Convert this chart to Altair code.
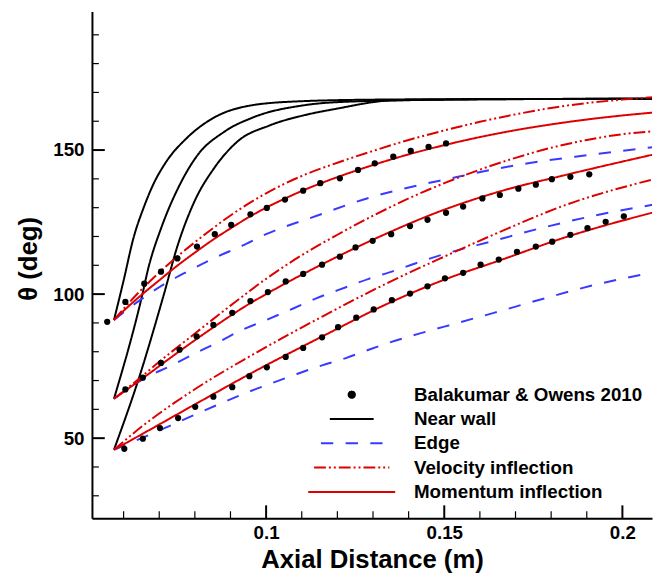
import altair as alt
import pandas as pd

# ---------------- data ----------------
SERIES = ["Balakumar & Owens 2010", "Near wall", "Edge",
          "Velocity inflection", "Momentum inflection"]

# Near wall (black)
nw_top_x = [0.0573, 0.0600, 0.0628, 0.0656, 0.0683, 0.0720, 0.0776, 0.0850, 0.0933, 0.1071, 0.1300, 0.1600, 0.2085]
nw_top_y = [91.0, 104.7, 119.6, 129.9, 138.0, 146.0, 154.0, 161.0, 164.9, 166.8, 167.5, 167.7, 167.8]
nw_mid_x = [0.0573, 0.0651, 0.0670, 0.0706, 0.0753, 0.0808, 0.0882, 0.0965, 0.1104, 0.1196, 0.1500, 0.2085]
nw_mid_y = [63.7, 99.0, 109.3, 123.1, 136.8, 148.3, 156.3, 161.4, 165.5, 166.6, 167.5, 167.8]
nw_bot_x = [0.0573, 0.0646, 0.0711, 0.0753, 0.0799, 0.0854, 0.0919, 0.1011, 0.1104, 0.1196, 0.1353, 0.1722, 0.2085]
nw_bot_y = [46.0, 72.0, 99.0, 117.4, 132.2, 143.7, 152.9, 158.6, 162.0, 164.3, 167.2, 167.7, 167.8]

# Edge (blue dashed)
ed_top_x = [0.0573, 0.0646, 0.0716, 0.0785, 0.0854, 0.0933, 0.1000, 0.1140, 0.1288, 0.1436, 0.1500, 0.1704, 0.1907, 0.2085]
ed_top_y = [91.0, 97.9, 103.6, 108.2, 112.5, 116.8, 120.8, 127.1, 133.4, 138.0, 139.7, 144.8, 148.3, 151.0]
ed_mid_x = [0.0573, 0.0656, 0.0730, 0.0794, 0.0868, 0.0933, 0.1000, 0.1076, 0.1150, 0.1224, 0.1288, 0.1362, 0.1427, 0.1500, 0.1639, 0.1778, 0.1916, 0.2085]
ed_mid_y = [63.7, 70.6, 75.0, 79.0, 83.5, 87.6, 91.0, 95.0, 99.0, 102.4, 105.3, 108.2, 111.0, 113.9, 118.5, 123.1, 127.1, 131.0]
ed_bot_x = [0.0573, 0.0656, 0.0730, 0.0794, 0.0868, 0.0933, 0.1007, 0.1076, 0.1150, 0.1224, 0.1288, 0.1362, 0.1427, 0.1500, 0.1639, 0.1778, 0.1916, 0.2085]
ed_bot_y = [46.0, 50.3, 54.3, 57.8, 61.8, 65.2, 68.7, 71.8, 75.0, 77.8, 80.7, 83.8, 86.2, 88.7, 93.5, 98.4, 103.0, 107.5]

# Velocity inflection (red dash-dot-dot)
vi_top_x = [0.0573, 0.063, 0.070, 0.076, 0.080, 0.085, 0.090, 0.100, 0.110, 0.120, 0.130, 0.140, 0.150, 0.160, 0.170, 0.180, 0.190, 0.200, 0.2085]
vi_top_y = [91.0, 99.0, 107.5, 114.0, 118.0, 122.8, 127.3, 135.0, 141.0, 145.6, 149.7, 153.5, 156.8, 159.8, 162.4, 164.6, 166.3, 167.5, 168.3]
vi_mid_x = [0.0573, 0.065, 0.070, 0.080, 0.090, 0.100, 0.110, 0.120, 0.130, 0.140, 0.150, 0.160, 0.170, 0.180, 0.190, 0.200, 0.2085]
vi_mid_y = [63.7, 71.3, 76.5, 86.3, 96.0, 105.3, 113.5, 120.6, 127.2, 133.2, 138.5, 143.2, 147.3, 150.8, 153.5, 155.5, 156.5]
vi_bot_x = [0.0573, 0.0656, 0.0794, 0.0974, 0.1159, 0.1343, 0.1500, 0.1658, 0.1842, 0.2085]
vi_bot_y = [46.0, 54.5, 66.5, 79.8, 92.3, 104.0, 113.0, 121.7, 131.0, 139.8]

# Momentum inflection (red solid)
mi_top_x = [0.0573, 0.060, 0.065, 0.070, 0.075, 0.080, 0.085, 0.090, 0.095, 0.100, 0.105, 0.110, 0.115, 0.120, 0.130, 0.140, 0.150, 0.160, 0.170, 0.180, 0.190, 0.200, 0.2085]
mi_top_y = [91.0, 94.2, 99.7, 104.8, 109.8, 114.4, 118.8, 122.8, 126.6, 130.0, 133.0, 135.8, 138.3, 140.6, 144.8, 148.5, 151.7, 154.5, 156.9, 158.9, 160.6, 162.0, 163.0]
mi_mid_x = [0.0573, 0.0656, 0.0757, 0.0850, 0.0951, 0.1000, 0.1205, 0.1343, 0.1500, 0.1658, 0.1842, 0.2085]
mi_mid_y = [63.7, 71.0, 80.2, 88.3, 96.5, 100.0, 113.3, 121.3, 129.3, 135.7, 141.4, 148.4]
mi_bot_x = [0.0573, 0.0656, 0.0794, 0.0974, 0.1159, 0.1343, 0.1500, 0.1658, 0.1842, 0.2085]
mi_bot_y = [46.0, 51.7, 61.3, 73.6, 85.4, 96.8, 105.0, 111.8, 119.8, 128.3]

# Balakumar & Owens 2010 (black dots)
ex_top_x = [0.0554, 0.0605, 0.0658, 0.0705, 0.0751, 0.0806, 0.0856, 0.0902, 0.0956, 0.1002, 0.1053, 0.1104, 0.1152, 0.1207, 0.1258, 0.1305, 0.1357, 0.1406, 0.1456, 0.1505]
ex_top_y = [90.4, 97.3, 103.6, 107.8, 112.4, 116.5, 120.8, 124.0, 127.7, 129.9, 132.8, 135.9, 138.5, 140.2, 143.1, 145.4, 147.7, 149.7, 151.1, 152.3]
ex_mid_x = [0.0605, 0.0654, 0.0705, 0.0757, 0.0805, 0.0852, 0.0905, 0.0956, 0.1005, 0.1055, 0.1104, 0.1157, 0.1207, 0.1251, 0.1299, 0.1351, 0.1404, 0.1453, 0.1505, 0.1553, 0.1607, 0.1656, 0.1708, 0.1757, 0.1802, 0.1854, 0.1907]
ex_mid_y = [66.9, 71.0, 76.1, 80.7, 85.3, 89.3, 93.5, 97.6, 100.7, 104.4, 107.0, 110.2, 113.0, 116.2, 118.5, 120.8, 123.6, 125.8, 128.2, 130.4, 133.2, 134.4, 136.6, 138.0, 139.9, 140.7, 141.6]
ex_bot_x = [0.0602, 0.0654, 0.0702, 0.0753, 0.0801, 0.0852, 0.0905, 0.0953, 0.1002, 0.1055, 0.1104, 0.1157, 0.1202, 0.1253, 0.1302, 0.1353, 0.1404, 0.1453, 0.1502, 0.1553, 0.1602, 0.1653, 0.1704, 0.1757, 0.1803, 0.1854, 0.1902, 0.1953, 0.2004]
ex_bot_y = [46.3, 49.8, 53.5, 57.0, 60.9, 64.4, 67.7, 71.5, 74.6, 78.2, 81.3, 85.0, 88.5, 91.8, 94.7, 97.9, 100.2, 102.7, 105.5, 107.4, 110.2, 112.0, 114.7, 116.5, 118.2, 120.6, 122.9, 125.1, 127.0]

# axis ticks
x_major = [0.1, 0.15, 0.2]
x_minor = [0.06, 0.07, 0.08, 0.09, 0.11, 0.12, 0.13, 0.14, 0.16, 0.17, 0.18, 0.19]
y_major = [50, 100, 150]
y_minor = [30, 40, 60, 70, 80, 90, 110, 120, 130, 140, 160, 170, 180, 190]

# ---------------- tables ----------------
curves = [
    ("Near wall", "top", nw_top_x, nw_top_y), ("Near wall", "mid", nw_mid_x, nw_mid_y), ("Near wall", "bot", nw_bot_x, nw_bot_y),
    ("Edge", "top", ed_top_x, ed_top_y), ("Edge", "mid", ed_mid_x, ed_mid_y), ("Edge", "bot", ed_bot_x, ed_bot_y),
    ("Velocity inflection", "top", vi_top_x, vi_top_y), ("Velocity inflection", "mid", vi_mid_x, vi_mid_y), ("Velocity inflection", "bot", vi_bot_x, vi_bot_y),
    ("Momentum inflection", "top", mi_top_x, mi_top_y), ("Momentum inflection", "mid", mi_mid_x, mi_mid_y), ("Momentum inflection", "bot", mi_bot_x, mi_bot_y),
]
rows = []
for s, g, xs, ys in curves:
    for xv, yv in zip(xs, ys):
        rows.append({"x": xv, "y": yv, "series": s, "curve": s + "-" + g})
lines_df = pd.DataFrame(rows)

pts = []
for xs, ys in [(ex_top_x, ex_top_y), (ex_mid_x, ex_mid_y), (ex_bot_x, ex_bot_y)]:
    for xv, yv in zip(xs, ys):
        pts.append({"x": xv, "y": yv, "series": SERIES[0]})
pts_df = pd.DataFrame(pts)

W, H = 567, 513
RED, BLUE = "#dd0000", "#3a3aff"
FONT = "Liberation Sans"

xscale = alt.Scale(domain=[0.05112, 0.20831], nice=False, zero=False)
yscale = alt.Scale(domain=[22.23, 198.1], nice=False, zero=False)

legend = alt.Legend(title=None, orient="none", legendX=218, legendY=378,
                    labelFont=FONT, labelFontSize=19, labelFontWeight="bold",
                    labelColor="black", labelOffset=18, labelLimit=600,
                    clipHeight=20, rowPadding=4.6, symbolStrokeWidth=2,
                    padding=0, symbolOpacity=1)

color = alt.Color("series:N", scale=alt.Scale(domain=SERIES, range=["black", "black", BLUE, RED, RED]), legend=legend)
dash = alt.StrokeDash("series:N", scale=alt.Scale(domain=SERIES, range=[[1, 0], [1, 0], [12.5, 12.5], [12, 3, 2, 3, 2, 3], [1, 0]]), legend=legend)
shape = alt.Shape("series:N", scale=alt.Scale(domain=SERIES, range=["circle", "stroke", "stroke", "stroke", "stroke"]), legend=legend)
size = alt.Size("series:N", scale=alt.Scale(domain=SERIES, range=[40, 7744, 7744, 7744, 7744]), legend=legend)

xaxis = alt.Axis(values=x_major, format="~g", title="Axial Distance (m)", titleY=50,
                 titleBaseline="alphabetic", labelPadding=6, labelFlush=False, labelOverlap=False)
yaxis = alt.Axis(values=y_major, format="d", title="θ (deg)", titleX=-64, titleY=250,
                 titleAngle=270, titleBaseline="middle", titleAlign="center",
                 labelPadding=8, labelOverlap=False)

X = alt.X("x:Q", scale=xscale, axis=xaxis)
Y = alt.Y("y:Q", scale=yscale, axis=yaxis)

line_layer = alt.Chart(lines_df).mark_line(strokeWidth=2, interpolate="monotone", clip=True).encode(
    x=X, y=Y, color=color, strokeDash=dash, detail="curve:N",
)

pt_layer = alt.Chart(pts_df).mark_point(filled=True, opacity=1, clip=True).encode(
    x=X, y=Y, color=color, shape=shape, size=size,
)

def xticks(vals, length, width):
    return alt.Chart(pd.DataFrame({"x": vals})).mark_rule(color="black", strokeWidth=width).encode(
        x=X, y=alt.value(H), y2=alt.value(H - length))

def yticks(vals, length, width):
    return alt.Chart(pd.DataFrame({"y": vals})).mark_rule(color="black", strokeWidth=width).encode(
        y=Y, x=alt.value(0), x2=alt.value(length))

chart = alt.layer(
    line_layer, pt_layer,
    xticks(x_minor, 7, 1.2), xticks(x_major, 13, 2),
    yticks(y_minor, 7, 1.2), yticks(y_major, 13, 2),
).properties(
    width=W, height=H,
    autosize=alt.AutoSizeParams(type="none"),
    padding={"left": 85, "top": 0, "right": 1, "bottom": 53},
).configure_view(strokeWidth=0).configure_axis(
    domainColor="black", domainWidth=2, grid=False, ticks=False,
    labelFont=FONT, labelFontSize=19, labelFontWeight="bold", labelColor="black",
    titleFont=FONT, titleFontSize=26, titleFontWeight="bold", titleColor="black",
)

chart.save("out.html", embed_options={"renderer": "svg", "actions": False})
